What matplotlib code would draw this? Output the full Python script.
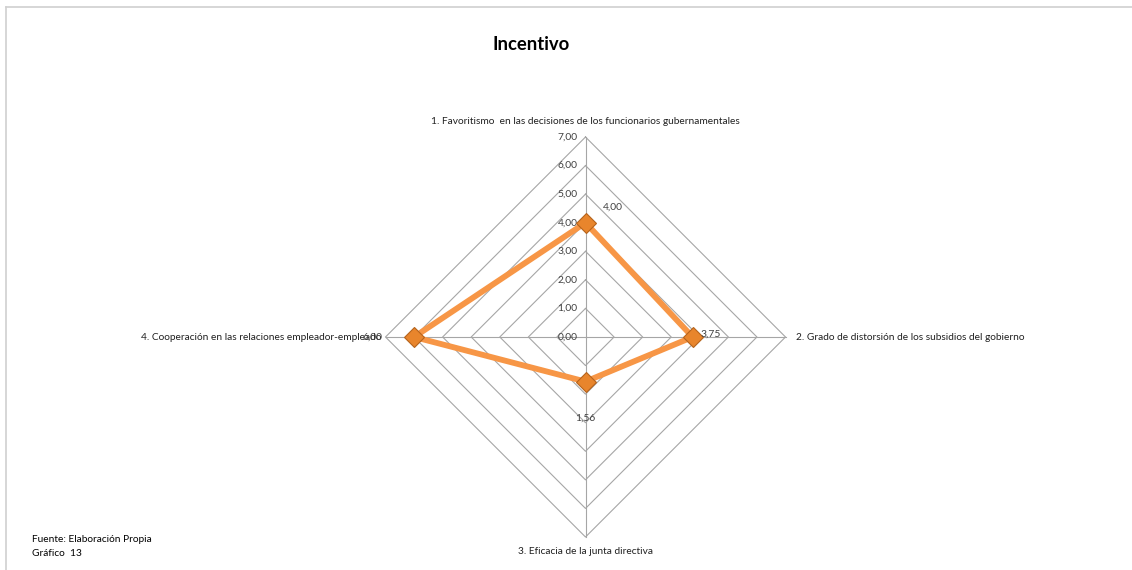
import matplotlib.pyplot as plt
import numpy as np

plt.rcParams['font.family'] = ['Lato', 'DejaVu Sans']

categories = ['1. Favoritismo  en las decisiones de los funcionarios gubernamentales',
              '2. Grado de distorsión de los subsidios del gobierno',
              '3. Eficacia de la junta directiva',
              '4. Cooperación en las relaciones empleador-empleado']
values = [4.00, 3.75, 1.56, 6.00]
value_labels = ['4,00', '3,75', '1,56', '6,00']
ring_values = [0, 1, 2, 3, 4, 5, 6, 7]
ring_labels = ['0,00', '1,00', '2,00', '3,00', '4,00', '5,00', '6,00', '7,00']

W, H = 1132, 570
cx, cy = 585.5, 337
px = 200 / 7.0  # pixels per unit

fig = plt.figure(figsize=(W / 100, H / 100), dpi=100)
ax = fig.add_axes([0, 0, 1, 1])
ax.set_xlim(-cx / px, (W - cx) / px)
ax.set_ylim(-(H - cy) / px, cy / px)
ax.axis('off')

# angles: up, right, down, left
ang = np.pi / 2 - np.arange(len(categories)) * np.pi / 2
ux, uy = np.cos(ang), np.sin(ang)

grid_c = '#a6a6a6'
for r in ring_values[1:]:
    gx = np.append(r * ux, r * ux[0])
    gy = np.append(r * uy, r * uy[0])
    ax.plot(gx, gy, color=grid_c, lw=0.8, zorder=1)
rmax = ring_values[-1]
for i in range(len(categories)):
    ax.plot([0, rmax * ux[i]], [0, rmax * uy[i]], color=grid_c, lw=0.8, zorder=1)

# ring labels
for r, lab in zip(ring_values, ring_labels):
    ax.text(-8 / px, r, lab, ha='right', va='center', fontsize=7.4, color='#404040', zorder=3)

# data
vals = np.array(values)
dx = np.append(vals * ux, vals[0] * ux[0])
dy = np.append(vals * uy, vals[0] * uy[0])
ax.plot(dx, dy, color='#f79646', lw=4.2, zorder=4, solid_joinstyle='miter')
ax.plot(vals * ux, vals * uy, ls='none', marker='D', ms=10,
        markerfacecolor='#e8852c', markeredgecolor='#b5631c', markeredgewidth=0.8, zorder=5)

offs = [(17, 16, 'left'), (8, 3, 'left'), (0, -37, 'center'), (-32, 0, 'right')]
for v, lab, (ox, oy, ha), x0, y0 in zip(values, value_labels, offs, ux, uy):
    ax.text(v * x0 + ox / px, v * y0 + oy / px, lab, ha=ha, va='center',
            fontsize=7.4, color='#404040', zorder=6)

# category labels
ax.text(0, rmax + 16 / px, categories[0], ha='center', va='center', fontsize=7.3, color='#202020')
ax.text(rmax + 10 / px, 0, categories[1], ha='left', va='center', fontsize=7.3, color='#202020')
ax.text(0, -rmax - 14 / px, categories[2], ha='center', va='center', fontsize=7.3, color='#202020')
ax.text(-rmax - 4 / px, 0, categories[3], ha='right', va='center', fontsize=7.3, color='#202020')

# title and footer
fig.text(531 / W, 1 - 45 / H, 'Incentivo', ha='center', va='center',
         fontsize=13.3, fontweight='bold', color='black')
fig.text(32 / W, 1 - 540 / H, 'Fuente: Elaboración Propia', ha='left', va='center', fontsize=7.3)
fig.text(32 / W, 1 - 553 / H, 'Gráfico  13', ha='left', va='center', fontsize=7.3)

# frame lines top and left
fig.add_artist(plt.Line2D([6 / W, 1], [1 - 7 / H, 1 - 7 / H], color='#d0d0d0', lw=1.2))
fig.add_artist(plt.Line2D([6 / W, 6 / W], [0, 1 - 7 / H], color='#d0d0d0', lw=1.2))

fig.savefig('out.png', dpi=100)
